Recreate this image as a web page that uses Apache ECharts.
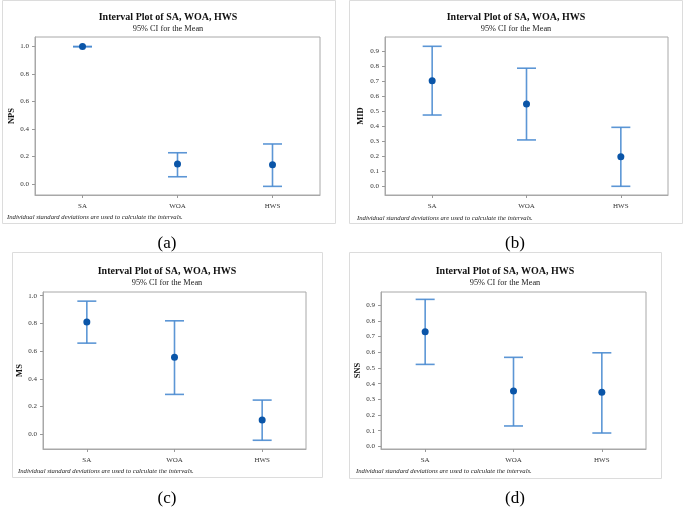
<!DOCTYPE html>
<html>
<head>
<meta charset="utf-8">
<script src="https://cdn.jsdelivr.net/npm/echarts@6/dist/echarts.min.js"></script>
<style>html,body{margin:0;padding:0;background:#fff;}#c{width:684px;height:509px;}</style>
</head>
<body>
<div id="c"></div>
<script>
const categories = ['SA', 'WOA', 'HWS'];
const titleText = 'Interval Plot of SA, WOA, HWS';
const subText = '95% CI for the Mean';
const noteText = 'Individual standard deviations are used to calculate the intervals.';
const panelLabels = ['(a)', '(b)', '(c)', '(d)'];
const yNames = ['NPS', 'MID', 'MS', 'SNS'];

// (a) NPS
const npsMean = [1.0, 0.144, 0.139];
const npsLow = [1.0, 0.051, -0.019];
const npsHigh = [1.0, 0.226, 0.29];
const npsTicks = [0.0, 0.2, 0.4, 0.6, 0.8, 1.0];
// (b) MID
const midMean = [0.702, 0.547, 0.195];
const midLow = [0.473, 0.307, -0.002];
const midHigh = [0.931, 0.785, 0.391];
const midTicks = [0.0, 0.1, 0.2, 0.3, 0.4, 0.5, 0.6, 0.7, 0.8, 0.9];
// (c) MS
const msMean = [0.81, 0.557, 0.103];
const msLow = [0.658, 0.288, -0.043];
const msHigh = [0.961, 0.819, 0.247];
const msTicks = [0.0, 0.2, 0.4, 0.6, 0.8, 1.0];
// (d) SNS
const snsMean = [0.731, 0.353, 0.345];
const snsLow = [0.523, 0.13, 0.085];
const snsHigh = [0.938, 0.568, 0.597];
const snsTicks = [0.0, 0.1, 0.2, 0.3, 0.4, 0.5, 0.6, 0.7, 0.8, 0.9];

const panels = [
  {mean: npsMean, low: npsLow, high: npsHigh, ticks: npsTicks, min: -0.082, max: 1.07, dec: 1,
   grid: {left: 35, top: 37, width: 285, height: 158}, cx: 168, ty: 12, gap: 17,
   note: [7, 214], box: [2, 0, 333, 223], lab: [167, 245]},
  {mean: midMean, low: midLow, high: midHigh, ticks: midTicks, min: -0.06, max: 0.993, dec: 1,
   grid: {left: 385, top: 37, width: 283, height: 158}, cx: 516, ty: 12, gap: 20,
   note: [357, 215], box: [349, 0, 333, 223], lab: [515, 245]},
  {mean: msMean, low: msLow, high: msHigh, ticks: msTicks, min: -0.106, max: 1.027, dec: 1,
   grid: {left: 43, top: 292, width: 263, height: 157}, cx: 167, ty: 266, gap: 17,
   note: [18, 468], box: [12, 252, 310, 225], lab: [167, 500]},
  {mean: snsMean, low: snsLow, high: snsHigh, ticks: snsTicks, min: -0.017, max: 0.985, dec: 1,
   grid: {left: 381, top: 292, width: 265, height: 157}, cx: 505, ty: 266, gap: 17,
   note: [356, 468], box: [349, 252, 312, 226], lab: [515, 500]}
];

const serif = '"Liberation Serif", "DejaVu Serif", serif';
const barColor = '#4a8bd0';
const dotColor = '#0a55a8';
const frameColor = '#a8a8a8';

const option = {
  animation: false,
  backgroundColor: '#fff',
  title: [],
  grid: [],
  xAxis: [],
  yAxis: [],
  series: [],
  graphic: []
};

panels.forEach((p, i) => {
  option.grid.push(Object.assign({show: true, borderColor: frameColor, borderWidth: 1, backgroundColor: '#fff'}, p.grid));
  option.title.push({
    text: titleText, subtext: subText, left: p.cx, top: p.ty, textAlign: 'center', itemGap: 3, padding: 0,
    textStyle: {fontFamily: serif, fontWeight: 'bold', fontSize: 10, color: '#111'},
    subtextStyle: {fontFamily: serif, fontSize: 8.3, color: '#222'}
  });
  option.title.push({
    text: noteText, left: p.note[0], top: p.note[1], padding: 0,
    textStyle: {fontFamily: serif, fontStyle: 'italic', fontWeight: 'normal', fontSize: 6.7, color: '#222'}
  });
  option.title.push({
    text: panelLabels[i], left: p.lab[0], top: p.lab[1] - 10, textAlign: 'center', padding: 0,
    textStyle: {fontFamily: serif, fontWeight: 'normal', fontSize: 17, color: '#000'}
  });
  option.xAxis.push({
    type: 'category', gridIndex: i, data: categories, boundaryGap: true,
    axisLine: {show: true, onZero: false, lineStyle: {color: frameColor}},
    axisTick: {show: true, alignWithLabel: true, length: 3, lineStyle: {color: '#999'}},
    axisLabel: {fontFamily: serif, fontSize: 7, color: '#333', margin: 8},
    splitLine: {show: false}
  });
  option.yAxis.push({
    type: 'value', gridIndex: i, min: p.min, max: p.max,
    name: yNames[i], nameLocation: 'middle', nameRotate: 90, nameGap: p.gap,
    nameTextStyle: {fontFamily: serif, fontWeight: 'bold', fontSize: 8.5, color: '#111'},
    axisLine: {show: true, onZero: false, lineStyle: {color: frameColor}},
    axisTick: {show: true, length: 3, customValues: p.ticks, lineStyle: {color: '#999'}},
    axisLabel: {fontFamily: serif, fontSize: 7, color: '#333', margin: 6, customValues: p.ticks,
      formatter: v => v.toFixed(p.dec)},
    splitLine: {show: false}
  });
  option.series.push({
    type: 'custom', xAxisIndex: i, yAxisIndex: i,
    data: categories.map((c, k) => [k, p.low[k], p.high[k]]),
    renderItem: (params, api) => {
      const x = api.value(0);
      const top = api.coord([x, api.value(2)]);
      const bot = api.coord([x, api.value(1)]);
      const hw = 9.5;
      const st = {stroke: barColor, lineWidth: 1.6, opacity: 0.9};
      return {type: 'group', children: [
        {type: 'line', shape: {x1: top[0], y1: top[1], x2: bot[0], y2: bot[1]}, style: st},
        {type: 'line', shape: {x1: top[0] - hw, y1: top[1], x2: top[0] + hw, y2: top[1]}, style: st},
        {type: 'line', shape: {x1: bot[0] - hw, y1: bot[1], x2: bot[0] + hw, y2: bot[1]}, style: st}
      ]};
    },
    z: 2
  });
  option.series.push({
    type: 'scatter', xAxisIndex: i, yAxisIndex: i,
    data: categories.map((c, k) => [k, p.mean[k]]),
    symbol: 'circle', symbolSize: 7,
    itemStyle: {color: dotColor, opacity: 1},
    z: 3
  });
  option.graphic.push({
    type: 'rect', shape: {x: p.box[0] + 0.5, y: p.box[1] + 0.5, width: p.box[2], height: p.box[3]},
    style: {fill: 'none', stroke: '#dcdcdc', lineWidth: 1}, silent: true, z: -10
  });
});

const chart = echarts.init(document.getElementById('c'), null, {renderer: 'canvas'});
chart.setOption(option);
</script>
</body>
</html>
